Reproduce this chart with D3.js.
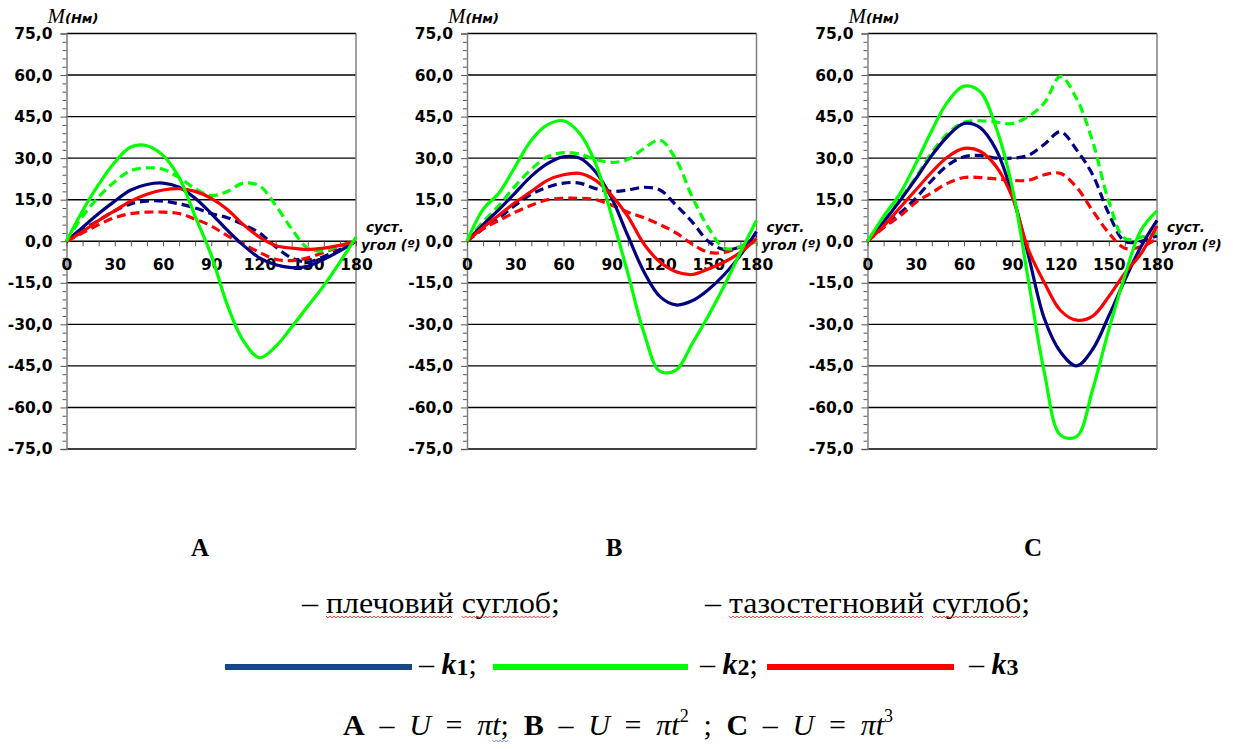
<!DOCTYPE html>
<html>
<head>
<meta charset="utf-8">
<script src="https://cdn.jsdelivr.net/npm/d3@7"></script>
<style>
  body { margin: 0; background: #fff; }
  svg { display: block; }
  .note { font-family: "Liberation Serif", "Times New Roman", serif; fill: #000; white-space: pre; }
</style>
</head>
<body>
<svg id="chart" width="1233" height="749"></svg>
<script>
// angle of the joint, degrees
const angles = [0, 10, 20, 30, 40, 50, 60, 70, 80, 90, 100, 110, 120, 130, 140, 150, 160, 170, 180];
const xTickLabels = [0, 30, 60, 90, 120, 150, 180];
const yTicks = [75, 60, 45, 30, 15, 0, -15, -30, -45, -60, -75];
const yTickLabels = ["75,0", "60,0", "45,0", "30,0", "15,0", "0,0", "-15,0", "-30,0", "-45,0", "-60,0", "-75,0"];

// A: U = pi t   (solid = shoulder joint, dashed = hip joint)
const aK1Shoulder = [0, 5, 10, 14.5, 18.5, 20.5, 21, 19.5, 15.5, 10, 4, -1.5, -6, -8.5, -9.5, -9, -6.5, -3.5, 0];
const aK2Shoulder = [0, 11, 20.5, 28.5, 34, 34.5, 31, 23, 9, -5, -23, -36, -42, -38, -31, -23.5, -16, -7.5, 1.5];
const aK3Shoulder = [0, 3.5, 7.5, 11, 14.5, 17, 18.5, 19, 18, 15.5, 11.5, 6, 1.5, -1.5, -2.5, -3, -2.5, -1.5, 0];
const aK1Hip = [0, 4, 7.5, 11, 13.5, 14.5, 14.5, 13.5, 12, 10, 8.5, 6, 3, -2, -6, -7.5, -5.5, -3, 0];
const aK2Hip = [0, 9, 16, 21.5, 25.5, 26.5, 26, 23, 19, 16.5, 18, 21, 20, 13, 4.5, -2.5, -3.5, -1.5, 0];
const aK3Hip = [0, 3, 6, 8.5, 10, 10.5, 10.5, 10, 8, 5.5, 2, -1, -4, -6.5, -7, -6, -4, -2, 0];

// B: U = pi t^2
const bK1Shoulder = [0, 6, 11.5, 17.5, 23.5, 28, 30.5, 30, 25, 15.5, 2, -11, -20, -23, -21.5, -17.5, -12, -5, 3.5];
const bK2Shoulder = [0, 11.5, 17.5, 27, 36.5, 42, 43.5, 39, 28, 9, -11.5, -33, -47, -46.5, -37, -27, -16, -4, 7.5];
const bK3Shoulder = [0, 5, 9.5, 14, 18, 22, 24, 24.5, 22, 16.5, 9, -1, -7.5, -11, -12, -10, -7.5, -4, 1];
const bK1Hip = [0, 4.5, 8.5, 13, 17, 19.5, 21, 21, 19, 18, 18.5, 19.5, 18.5, 13, 7, 0, -3, -2, 2];
const bK2Hip = [0, 7, 13, 20, 26, 30.5, 32, 31.5, 29.5, 28.5, 29.5, 33.5, 36.5, 29.5, 16, 5, -2.5, -2, 0];
const bK3Hip = [0, 4.5, 7.5, 10.5, 13, 15, 15.5, 15.5, 15, 13, 10.5, 8.5, 6, 3, -1, -4, -4, -2, 0];

// C: U = pi t^3
const cK1Shoulder = [0, 7, 14.5, 22.5, 31, 38, 42.5, 41, 33, 17, -5, -28, -40, -45, -39, -27, -14, -2, 7.5];
const cK2Shoulder = [0, 9, 17, 28, 40, 50.5, 56, 54, 41, 19.5, -14, -47.5, -70, -70.5, -53.5, -32, -12.5, 4, 11];
const cK3Shoulder = [0, 5.5, 12, 18.5, 25, 30.5, 33.5, 32.5, 27, 16, -3, -15, -25, -28.5, -27, -20, -11.5, -4.5, 5.5];
const cK1Hip = [0, 5, 10, 15.5, 22, 27.5, 30.5, 31, 30, 30, 31, 35, 39.5, 33, 24, 10, 0, 0, 2];
const cK2Hip = [0, 7, 15, 23, 32, 39, 43, 43.5, 43, 42.5, 45, 50, 59.5, 51.5, 36, 14.5, 1, 1.5, 3];
const cK3Hip = [0, 5, 9, 14, 17.5, 21, 23, 23, 22.5, 22, 22, 24, 24.5, 19.5, 11, 3, -2.5, -2, 1];

const colors = { k1: "#000080", k2: "#00ff00", k3: "#ff0000" };

const panels = [
  { name: "A", left: 66.5, labelX: 200, hip: [aK1Hip, aK3Hip, aK2Hip], shoulder: [aK1Shoulder, aK3Shoulder, aK2Shoulder] },
  { name: "B", left: 467, labelX: 614, hip: [bK1Hip, bK3Hip, bK2Hip], shoulder: [bK1Shoulder, bK3Shoulder, bK2Shoulder] },
  { name: "C", left: 867.5, labelX: 1033, hip: [cK1Hip, cK3Hip, cK2Hip], shoulder: [cK1Shoulder, cK3Shoulder, cK2Shoulder] }
];
const seriesColors = [colors.k1, colors.k3, colors.k2];

const svg = d3.select("#chart");
const plotW = 289.5, plotTop = 33.5, plotBottom = 449;
const minorY = d3.range(-75, 75.1, 3).filter(v => v % 15 !== 0);

function tickFont(s) {
  s.selectAll(".tick text")
    .attr("font-family", "DejaVu Sans, Verdana, sans-serif")
    .attr("font-weight", "bold").attr("font-size", 15.5).attr("fill", "#000");
}

panels.forEach(p => {
  const x = d3.scaleLinear().domain([0, 180]).range([p.left, p.left + plotW]);
  const y = d3.scaleLinear().domain([-75, 75]).range([plotBottom, plotTop]);
  const g = svg.append("g");

  // horizontal grid
  g.selectAll("line.grid").data(yTicks).join("line")
    .attr("x1", x(0)).attr("x2", x(180))
    .attr("y1", d => y(d)).attr("y2", d => y(d))
    .attr("stroke", "#000").attr("stroke-width", 1.4);

  // right border
  g.append("line")
    .attr("x1", x(180)).attr("x2", x(180)).attr("y1", y(75)).attr("y2", y(-75))
    .attr("stroke", "#808080").attr("stroke-width", 1.5);

  // minor ticks on y
  g.append("g").attr("transform", `translate(${x(0)},0)`)
    .call(d3.axisLeft(y).tickValues(minorY).tickSize(4).tickFormat(""))
    .call(s => s.select(".domain").remove())
    .call(s => s.selectAll(".tick line").attr("stroke", "#555"));

  // y axis
  g.append("g").attr("transform", `translate(${x(0)},0)`)
    .call(d3.axisLeft(y).tickValues(yTicks).tickSize(6).tickPadding(8)
      .tickFormat((d, i) => yTickLabels[i]))
    .call(s => s.select(".domain").attr("stroke", "#808080").attr("stroke-width", 1.5))
    .call(s => s.selectAll(".tick line").attr("stroke", "#555"))
    .call(tickFont);

  // x axis on zero line
  g.append("g").attr("transform", `translate(0,${y(0)})`)
    .call(d3.axisBottom(x).tickValues(angles).tickSize(5).tickPadding(13)
      .tickFormat(d => xTickLabels.includes(d) ? d : ""))
    .call(s => s.select(".domain").remove())
    .call(s => s.selectAll(".tick line").attr("stroke", "#555"))
    .call(tickFont);

  const line = d3.line()
    .x((d, i) => x(angles[i]))
    .y(d => y(d))
    .curve(d3.curveCatmullRom.alpha(0.5));

  p.hip.forEach((vals, i) => {
    g.append("path").datum(vals).attr("d", line)
      .attr("fill", "none").attr("stroke", seriesColors[i])
      .attr("stroke-width", 3.2).attr("stroke-dasharray", "9,5");
  });
  p.shoulder.forEach((vals, i) => {
    g.append("path").datum(vals).attr("d", line)
      .attr("fill", "none").attr("stroke", seriesColors[i])
      .attr("stroke-width", 3.2);
  });

  // axis titles
  const mt = g.append("text").attr("x", x(0) - 19).attr("y", 23);
  mt.append("tspan").text("M")
    .attr("font-family", "Liberation Serif, serif").attr("font-style", "italic").attr("font-size", 21);
  mt.append("tspan").text("(Нм)")
    .attr("font-family", "DejaVu Sans, sans-serif").attr("font-style", "italic")
    .attr("font-weight", "bold").attr("font-size", 13);

  const ang = g.append("g")
    .attr("font-family", "DejaVu Sans, sans-serif").attr("font-style", "italic")
    .attr("font-weight", "bold").attr("font-size", 13.5);
  ang.append("text").attr("x", x(180) + 10).attr("y", 232).text("суст.");
  ang.append("text").attr("x", x(180) + 5).attr("y", 250).text("угол (º)");

  // panel letter
  svg.append("text").attr("class", "note")
    .attr("x", p.labelX).attr("y", 556)
    .attr("text-anchor", "middle").attr("font-weight", "bold").attr("font-size", 25)
    .text(p.name);
});

// squiggly spell-check underline
function squiggle(x1, x2, yy, color) {
  let d = `M${x1},${yy}`;
  let k = 0;
  for (let xx = x1 + 2; xx <= x2; xx += 2) {
    d += `L${xx},${yy + (k % 2 === 0 ? 2 : 0)}`;
    k++;
  }
  svg.append("path").attr("d", d).attr("fill", "none")
    .attr("stroke", color).attr("stroke-width", 0.9);
}
function underWords(node, words, color, yy) {
  const s = node.textContent;
  words.forEach(w => {
    const i = s.indexOf(w);
    const x1 = node.getStartPositionOfChar(i).x;
    const x2 = node.getEndPositionOfChar(i + w.length - 1).x;
    squiggle(x1, x2, yy, color);
  });
}

// row 1: joints
const j1 = svg.append("text").attr("class", "note").attr("x", 302).attr("y", 613)
  .attr("font-size", 29).attr("textLength", 258).attr("lengthAdjust", "spacingAndGlyphs")
  .text("– плечовий суглоб;");
const j2 = svg.append("text").attr("class", "note").attr("x", 705).attr("y", 613)
  .attr("font-size", 29).attr("textLength", 325).attr("lengthAdjust", "spacingAndGlyphs")
  .text("– тазостегновий суглоб;");
underWords(j1.node(), ["плечовий", "суглоб"], "#ff2020", 616);
underWords(j2.node(), ["тазостегновий", "суглоб"], "#ff2020", 616);

// row 2: coefficient legend
const legendItems = [
  { color: "#164886", x1: 225, x2: 412, label: "1", sep: ";", tx: 419 },
  { color: "#00ff00", x1: 493, x2: 688, label: "2", sep: ";", tx: 700 },
  { color: "#ff0000", x1: 767, x2: 954, label: "3", sep: "", tx: 969 }
];
legendItems.forEach(it => {
  svg.append("line").attr("x1", it.x1).attr("x2", it.x2).attr("y1", 667).attr("y2", 667)
    .attr("stroke", it.color).attr("stroke-width", 6);
  const t = svg.append("text").attr("class", "note").attr("x", it.tx).attr("y", 674).attr("font-size", 30);
  t.append("tspan").text("– ");
  t.append("tspan").text("k").attr("font-weight", "bold").attr("font-style", "italic");
  t.append("tspan").text(it.label).attr("font-weight", "bold").attr("font-size", 24).attr("dy", 1);
  t.append("tspan").text(it.sep).attr("dy", -1);
});

// row 3: formulas
const formula = [
  { t: "A", b: 1 }, { t: " – " }, { t: "U", i: 1 }, { t: " = " }, { t: "π", i: 1 }, { t: "t", i: 1 }, { t: "; " },
  { t: "B", b: 1 }, { t: " – " }, { t: "U", i: 1 }, { t: " = " }, { t: "π", i: 1 }, { t: "t", i: 1 }, { t: "2", sup: 1 }, { t: " ; " },
  { t: "C", b: 1 }, { t: " – " }, { t: "U", i: 1 }, { t: " = " }, { t: "π", i: 1 }, { t: "t", i: 1 }, { t: "3", sup: 1 }
];
const ft = svg.append("text").attr("class", "note").attr("x", 343).attr("y", 735).attr("font-size", 30);
let raised = false;
formula.forEach(f => {
  const ts = ft.append("tspan").text(f.t);
  if (f.b) ts.attr("font-weight", "bold");
  if (f.i) ts.attr("font-style", "italic");
  if (f.sup) { ts.attr("font-size", 18).attr("dy", -13); raised = true; }
  else if (raised) { ts.attr("dy", 13); raised = false; }
});
const natural = ft.node().getComputedTextLength();
const nSpaces = formula.map(f => f.t).join("").split(" ").length - 1;
ft.attr("word-spacing", (550 - natural) / nSpaces);
{
  const s = ft.node().textContent;
  const i = s.indexOf("t;");
  squiggle(ft.node().getStartPositionOfChar(i).x, ft.node().getEndPositionOfChar(i + 1).x, 740, "#4a7fe0");
}
</script>
</body>
</html>
